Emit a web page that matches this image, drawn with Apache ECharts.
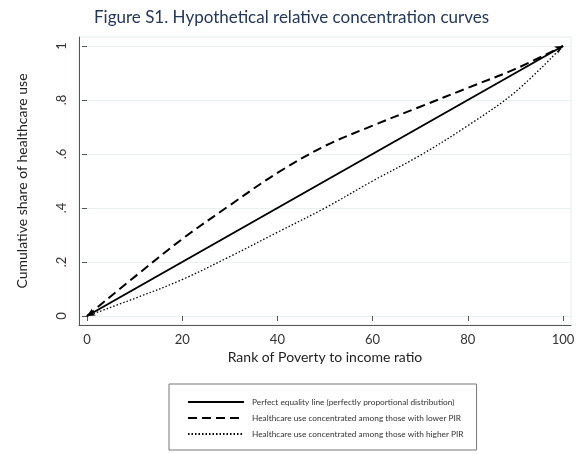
<!DOCTYPE html>
<html><head><meta charset="utf-8">
<script src="https://cdn.jsdelivr.net/npm/echarts@6/dist/echarts.min.js"></script>
<style>html,body{margin:0;padding:0;background:#fff}#c{width:578px;height:454px}</style>
</head><body><div id="c"></div>
<script>
const rank = [0, 10, 20, 30, 40, 50, 60, 70, 80, 90, 100];
const equality = [0, 0.1, 0.2, 0.3, 0.4, 0.5, 0.6, 0.7, 0.8, 0.9, 1];
const lowerPIR = [0, 0.145, 0.285, 0.41, 0.53, 0.63, 0.705, 0.775, 0.845, 0.915, 1];
const higherPIR = [0, 0.065, 0.135, 0.22, 0.31, 0.40, 0.50, 0.595, 0.705, 0.83, 1];
const xTicks = [0, 20, 40, 60, 80, 100];
const yTicks = ['0', '.2', '.4', '.6', '.8', '1'];
const names = [
  'Perfect equality line (perfectly proportional distribution)',
  'Healthcare use concentrated among those with lower PIR',
  'Healthcare use concentrated among those with higher PIR'
];
const FONT = 'Lato';
function pairs(ys, arrows) {
  return rank.map((x, i) => {
    const p = { value: [x, ys[i]] };
    if (arrows && i === 0) { p.symbol = 'arrow'; p.symbolSize = [6, 8]; p.symbolRotate = 119.6; }
    if (arrows && i === rank.length - 1) { p.symbol = 'arrow'; p.symbolSize = [6, 8]; p.symbolRotate = -60.4; }
    return p;
  });
}
const chart = echarts.init(document.getElementById('c'), null, { renderer: 'canvas' });
chart.setOption({
  animation: false,
  title: {
    text: 'Figure S1. Hypothetical relative concentration curves',
    left: 89, top: 4,
    textStyle: { fontFamily: FONT, fontSize: 17, fontWeight: 'normal', color: '#243757' }
  },
  legend: {
    orient: 'vertical', left: 169, top: 384,
    padding: [14, 13, 12, 18], itemGap: 8, itemWidth: 56, itemHeight: 8,
    borderColor: '#777', borderWidth: 1,
    itemStyle: { opacity: 0 },
    data: names,
    textStyle: { fontFamily: FONT, fontSize: 8.3, color: '#333', padding: [0, 0, 0, 3] }
  },
  grid: [
    { left: 87, right: 15, top: 46, bottom: 138 },
    { left: 79, right: 7, top: 37, bottom: 129, show: true, borderColor: '#e4ecec', borderWidth: 1 },
    { left: 79, right: 7, top: 46, bottom: 138 }
  ],
  xAxis: [
    { type: 'value', gridIndex: 0, min: 0, max: 100, interval: 20, offset: 9,
      axisLine: { show: false },
      axisTick: { show: true, length: 5, lineStyle: { color: '#555' } },
      axisLabel: { fontFamily: FONT, fontSize: 13, color: '#333', margin: 8,
        formatter: v => xTicks.includes(v) ? String(v) : '' },
      splitLine: { show: false },
      name: 'Rank of Poverty to income ratio', nameLocation: 'middle', nameGap: 23,
      nameTextStyle: { fontFamily: FONT, fontSize: 14, color: '#222' } },
    { type: 'value', gridIndex: 1, min: 0, max: 1, show: true,
      axisLine: { show: true, onZero: false, lineStyle: { color: '#555', width: 1 } },
      axisTick: { show: false }, axisLabel: { show: false }, splitLine: { show: false } },
    { type: 'value', gridIndex: 2, min: 0, max: 1, show: false }
  ],
  yAxis: [
    { type: 'value', gridIndex: 0, min: 0, max: 1, interval: 0.2, offset: 8,
      axisLine: { show: false },
      axisTick: { show: true, length: 5, lineStyle: { color: '#555' } },
      axisLabel: { fontFamily: FONT, fontSize: 13, color: '#333', rotate: 90, margin: 11,
        formatter: v => yTicks[Math.round(v * 5)] },
      splitLine: { show: false },
      name: 'Cumulative share of healthcare use', nameLocation: 'middle', nameGap: 50,
      nameTextStyle: { fontFamily: FONT, fontSize: 14, color: '#222' } },
    { type: 'value', gridIndex: 1, min: 0, max: 1, show: true,
      axisLine: { show: true, onZero: false, lineStyle: { color: '#555', width: 1 } },
      axisTick: { show: false }, axisLabel: { show: false }, splitLine: { show: false } },
    { type: 'value', gridIndex: 2, min: 0, max: 1, interval: 0.2,
      axisLine: { show: false }, axisTick: { show: false }, axisLabel: { show: false },
      splitLine: { show: true, lineStyle: { color: '#eaf1f1', width: 1 } } }
  ],
  series: [
    { name: names[0], type: 'line', xAxisIndex: 0, yAxisIndex: 0, data: pairs(equality, true),
      symbol: 'none', showSymbol: true, itemStyle: { color: '#000' },
      lineStyle: { color: '#000', width: 2, type: 'solid' } },
    { name: names[1], type: 'line', xAxisIndex: 0, yAxisIndex: 0, data: pairs(lowerPIR, false),
      symbol: 'none', smooth: 0.35, itemStyle: { color: '#000' },
      lineStyle: { color: '#000', width: 2, type: [9, 5] } },
    { name: names[2], type: 'line', xAxisIndex: 0, yAxisIndex: 0, data: pairs(higherPIR, false),
      symbol: 'none', smooth: 0.35, itemStyle: { color: '#000' },
      lineStyle: { color: '#000', width: 1.3, type: [1.5, 2] } }
  ]
});
</script></body></html>
